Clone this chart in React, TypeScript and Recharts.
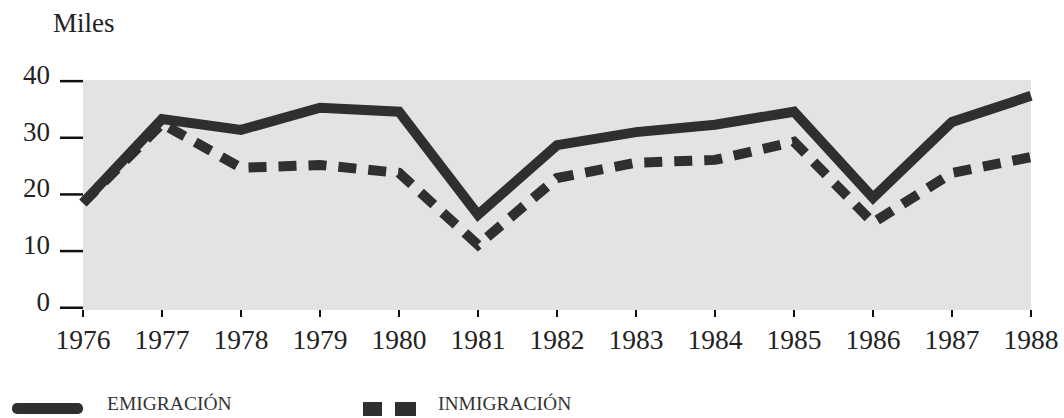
import React from 'react';
import { LineChart, Line, XAxis, YAxis, CartesianGrid } from 'recharts';

const years = ['1976', '1977', '1978', '1979', '1980', '1981', '1982', '1983', '1984', '1985', '1986', '1987', '1988'];
const emigracion = [18.5, 33.3, 31.4, 35.3, 34.6, 16.4, 28.7, 31.0, 32.3, 34.6, 19.4, 32.8, 37.4];
const inmigracion = [18.5, 32.5, 24.7, 25.2, 23.8, 11.1, 22.9, 25.6, 26.1, 29.3, 15.0, 23.8, 26.6];
const yTicks = [0, 10, 20, 30, 40];

const data = years.map((y, i) => ({ year: y, emig: emigracion[i], inmig: inmigracion[i] }));

const FONT = '"Liberation Serif", "DejaVu Serif", serif';
const INK = '#2e3030';

const YTick = (props: any) => {
  const { x, y, payload } = props;
  return (
    <text x={x} y={y + 3} textAnchor="end" fontFamily={FONT} fontSize={27} fill="#222">
      {payload.value}
    </text>
  );
};

const XTick = (props: any) => {
  const { x, y, payload } = props;
  return (
    <text x={x} y={y} dy="0.71em" textAnchor="middle" fontFamily={FONT} fontSize={27.5} fill="#222">
      {payload.value}
    </text>
  );
};

export default function App() {
  return (
    <div style={{ position: 'absolute', left: 0, top: 0, width: 1064, height: 418, background: '#fff', overflow: 'hidden' }}>
      <div style={{ position: 'absolute', left: 53, top: 8, fontFamily: FONT, fontSize: 27, color: '#222' }}>Miles</div>
      <LineChart width={1064} height={418} data={data} margin={{ top: 80, right: 33, bottom: 78, left: 0 }}>
        <CartesianGrid fill="#e2e4e3" stroke="none" horizontal={false} vertical={false} />
        <XAxis
          dataKey="year"
          height={30}
          padding={{ left: 0, right: 0 }}
          axisLine={false}
          tickLine={{ stroke: '#111', strokeWidth: 2 }}
          tickSize={7}
          tickMargin={12}
          tick={<XTick />}
          interval={0}
        />
        <YAxis
          width={83}
          domain={[-0.4, 40.2]}
          ticks={yTicks}
          axisLine={false}
          tickLine={{ stroke: '#111', strokeWidth: 2.5 }}
          tickSize={23}
          tickMargin={10}
          tick={<YTick />}
          allowDataOverflow
        />
        <Line
          dataKey="inmig"
          stroke={INK}
          strokeWidth={10}
          strokeDasharray="18 12"
          dot={false}
          isAnimationActive={false}
        />
        <Line
          dataKey="emig"
          stroke={INK}
          strokeWidth={10}
          dot={false}
          isAnimationActive={false}
        />
      </LineChart>
      <div style={{ position: 'absolute', left: 12, top: 403, width: 71, height: 11, borderRadius: 5, background: INK }} />
      <div style={{ position: 'absolute', left: 107, top: 393, fontFamily: FONT, fontSize: 19.5, lineHeight: '22px', color: '#333' }}>EMIGRACIÓN</div>
      <div style={{ position: 'absolute', left: 363, top: 402, width: 19, height: 14, background: INK }} />
      <div style={{ position: 'absolute', left: 395, top: 402, width: 21, height: 14, background: INK }} />
      <div style={{ position: 'absolute', left: 438, top: 393, fontFamily: FONT, fontSize: 19.5, lineHeight: '22px', color: '#333' }}>INMIGRACIÓN</div>
    </div>
  );
}
